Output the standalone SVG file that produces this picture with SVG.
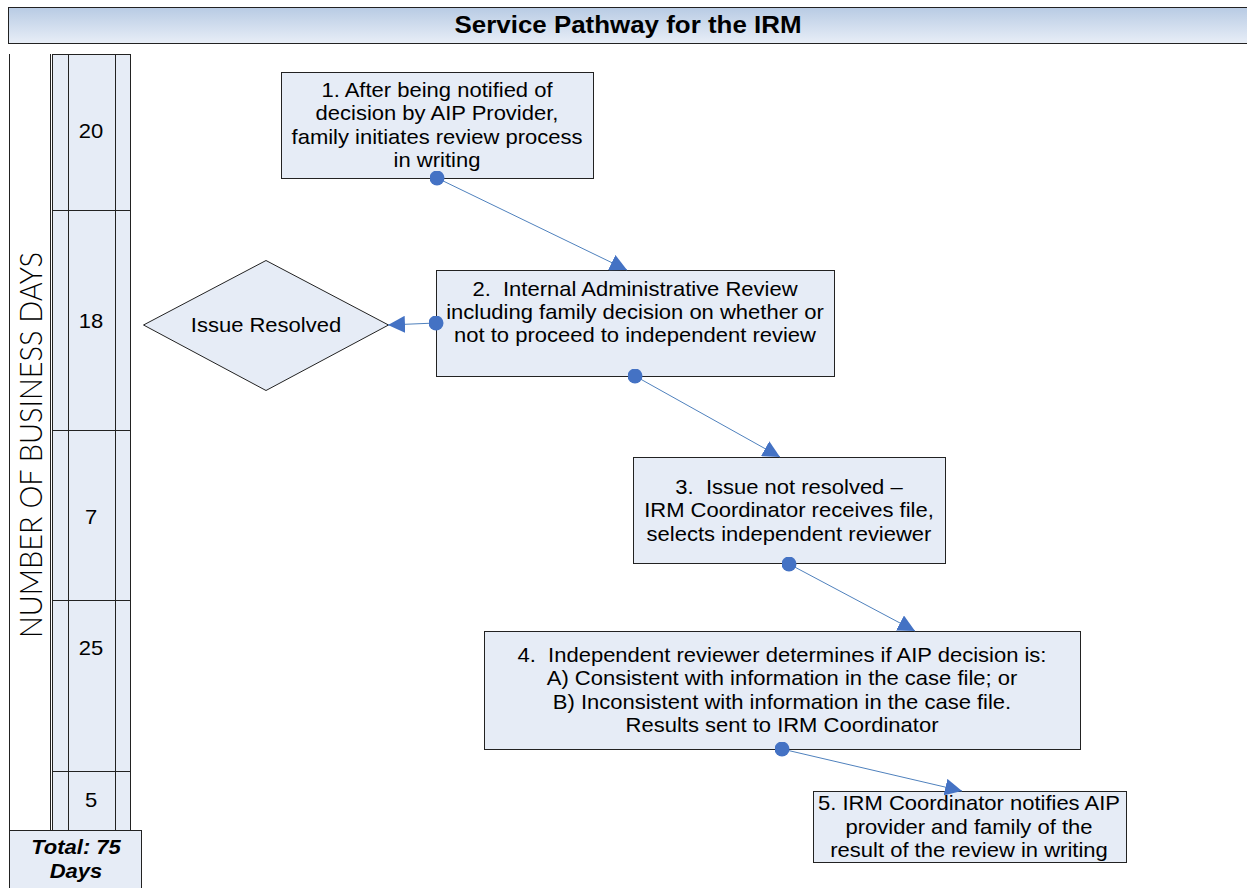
<svg xmlns="http://www.w3.org/2000/svg" width="1247" height="888" viewBox="0 0 1247 888">
<defs>
<linearGradient id="tg" x1="0" y1="0" x2="0" y2="1">
<stop offset="0" stop-color="#b8cbe4"/>
<stop offset="1" stop-color="#e8eef7"/>
</linearGradient>
<marker id="ah" viewBox="0 0 10 10" refX="10" refY="5" markerWidth="17" markerHeight="17" markerUnits="userSpaceOnUse" orient="auto">
<path d="M0,0 L10,5 L0,10 z" fill="#4472c4"/>
</marker>
<marker id="dot" viewBox="0 0 10 10" refX="5" refY="5" markerWidth="15" markerHeight="15" markerUnits="userSpaceOnUse">
<circle cx="5" cy="5" r="5" fill="#4472c4"/>
</marker>
</defs>
<style>
.box{fill:#e6ecf6;stroke:#222;stroke-width:1}
.t{font-family:"Liberation Sans",Arial,sans-serif;font-size:20px;fill:#000;text-anchor:middle;white-space:pre}
.c{stroke:#4f81bd;stroke-width:1;fill:none;marker-start:url(#dot);marker-end:url(#ah)}
.ln{stroke:#222;stroke-width:1;fill:none}
</style>
<rect width="1247" height="888" fill="#fff"/>
<g id="title">
<rect x="8.5" y="7.5" width="1245" height="36" fill="url(#tg)" stroke="#222" stroke-width="1"/>
<text x="628" y="33" font-family="'Liberation Sans',Arial,sans-serif" font-size="24" font-weight="bold" text-anchor="middle" textLength="347" lengthAdjust="spacingAndGlyphs">Service Pathway for the IRM</text>
</g>
<g id="timeline">
<line class="ln" x1="9.5" y1="54" x2="9.5" y2="830"/>
<text transform="translate(42,445) rotate(-90)" font-family="Lato,'Open Sans',sans-serif" font-weight="300" font-size="31" text-anchor="middle" textLength="386" lengthAdjust="spacingAndGlyphs">NUMBER OF BUSINESS DAYS</text>
<rect x="52.5" y="54.5" width="78" height="776" fill="#e6ecf6" stroke="#222" stroke-width="1"/>
<line class="ln" x1="50.5" y1="54" x2="50.5" y2="830"/>
<line class="ln" x1="68.5" y1="54" x2="68.5" y2="830"/>
<line class="ln" x1="115.5" y1="54" x2="115.5" y2="830"/>
<line class="ln" x1="52" y1="210.5" x2="131" y2="210.5"/>
<line class="ln" x1="52" y1="430.5" x2="131" y2="430.5"/>
<line class="ln" x1="52" y1="600.5" x2="131" y2="600.5"/>
<line class="ln" x1="52" y1="771.5" x2="131" y2="771.5"/>
<g transform="translate(91,0) scale(1.1,1)">
<text class="t" x="0" y="138">20</text>
<text class="t" x="0" y="328">18</text>
<text class="t" x="0" y="524">7</text>
<text class="t" x="0" y="655">25</text>
<text class="t" x="0" y="807">5</text>
</g>
<rect x="9.5" y="830.5" width="132" height="60" fill="#e6ecf6" stroke="#222" stroke-width="1"/>
<g transform="translate(76,0) scale(1.1,1)">
<text class="t" x="0" y="854" font-weight="bold" font-style="italic">Total: 75</text>
<text class="t" x="0" y="878" font-weight="bold" font-style="italic">Days</text>
</g>
</g>
<g id="n1">
<rect class="box" x="281.5" y="72.5" width="312" height="106"/>
<g transform="translate(437,0) scale(1.1,1)">
<text class="t" x="0" y="97">1. After being notified of</text>
<text class="t" x="0" y="120">decision by AIP Provider,</text>
<text class="t" x="0" y="144">family initiates review process</text>
<text class="t" x="0" y="167">in writing</text>
</g>
</g>
<g id="n2">
<rect class="box" x="436.5" y="270.5" width="398" height="106"/>
<g transform="translate(635,0) scale(1.1,1)">
<text class="t" x="0" y="296">2.  Internal Administrative Review</text>
<text class="t" x="0" y="319">including family decision on whether or</text>
<text class="t" x="0" y="342">not to proceed to independent review</text>
</g>
</g>
<g id="resolved">
<polygon class="box" points="143.5,325 266,260.5 388.5,325 266,390.5"/>
<g transform="translate(266,0) scale(1.1,1)">
<text class="t" x="0" y="332">Issue Resolved</text>
</g>
</g>
<g id="n3">
<rect class="box" x="633.5" y="457.5" width="312" height="106"/>
<g transform="translate(789,0) scale(1.1,1)">
<text class="t" x="0" y="494">3.  Issue not resolved –</text>
<text class="t" x="0" y="517">IRM Coordinator receives file,</text>
<text class="t" x="0" y="541">selects independent reviewer</text>
</g>
</g>
<g id="n4">
<rect class="box" x="484.5" y="631.5" width="596" height="118"/>
<g transform="translate(782,0) scale(1.1,1)">
<text class="t" x="0" y="662">4.  Independent reviewer determines if AIP decision is:</text>
<text class="t" x="0" y="685">A) Consistent with information in the case file; or</text>
<text class="t" x="0" y="709">B) Inconsistent with information in the case file.</text>
<text class="t" x="0" y="732">Results sent to IRM Coordinator</text>
</g>
</g>
<g id="n5">
<rect class="box" x="813.5" y="791.5" width="313" height="71"/>
<g transform="translate(969,0) scale(1.1,1)">
<text class="t" x="0" y="810">5. IRM Coordinator notifies AIP</text>
<text class="t" x="0" y="834">provider and family of the</text>
<text class="t" x="0" y="857">result of the review in writing</text>
</g>
</g>
<g id="connectors">
<path class="c" d="M437,178 L627,270"/>
<path class="c" d="M436,323 L388,325"/>
<path class="c" d="M635,376 L780,457"/>
<path class="c" d="M789,564 L915,631"/>
<path class="c" d="M782,749 L962,791"/>
</g>
</svg>
